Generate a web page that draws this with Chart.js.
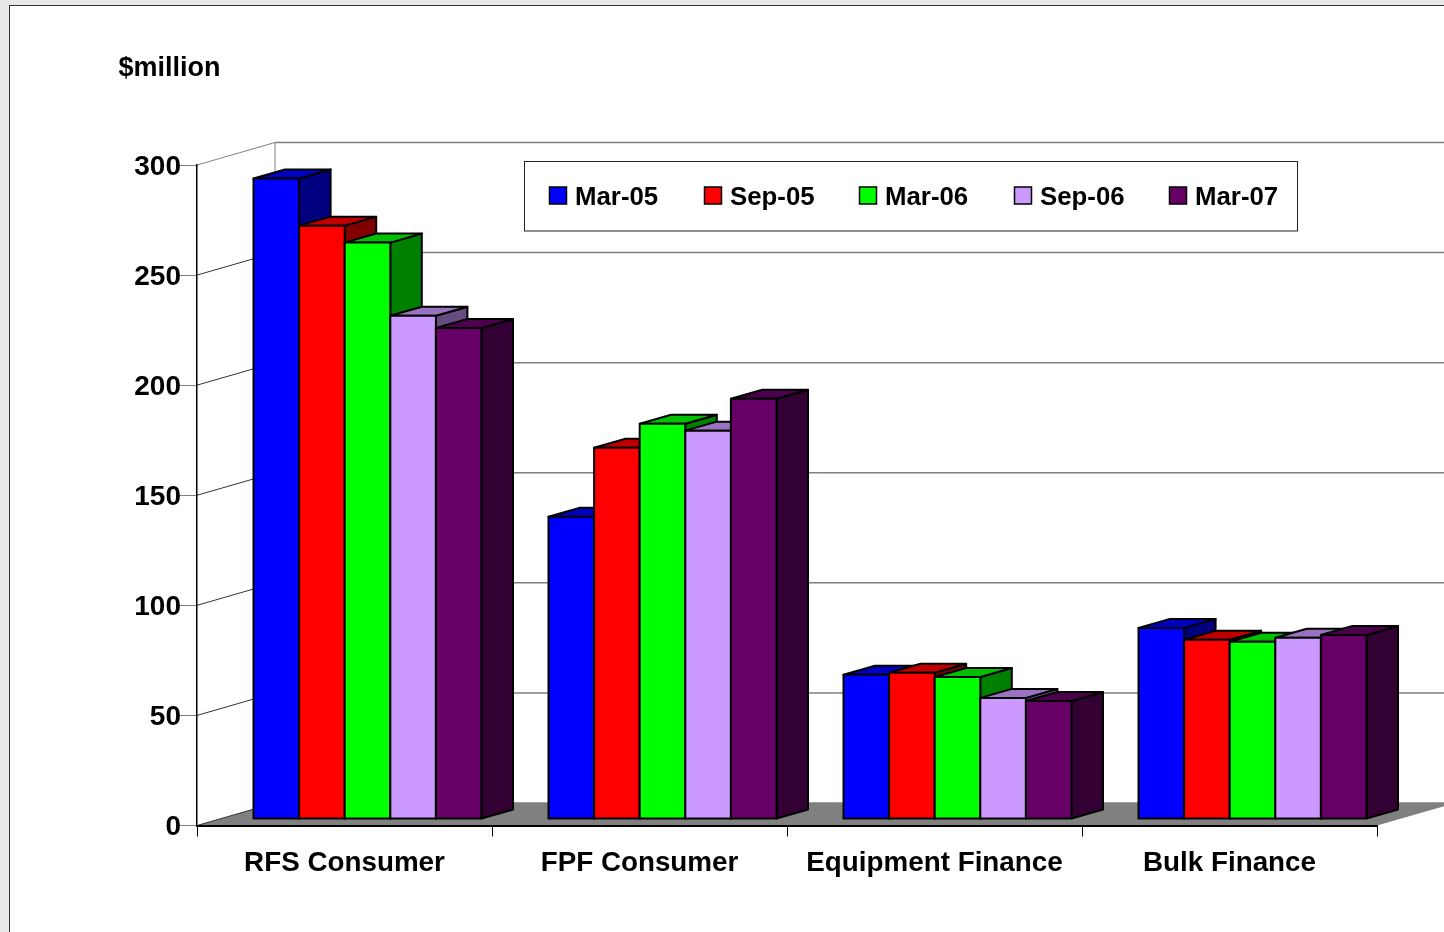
<!DOCTYPE html>
<html><head><meta charset="utf-8">
<style>
html,body{margin:0;padding:0;width:1444px;height:932px;overflow:hidden;background:#e9e9e9}
#frame{position:absolute;left:9px;top:5px;width:1460px;height:960px;background:#fff;border:1.5px solid #333;box-sizing:border-box}
#c{position:absolute;left:0;top:0}
</style>
<script src="https://cdn.jsdelivr.net/npm/chart.js@4/dist/chart.umd.min.js"></script>
</head><body>
<div id="frame"></div>
<canvas id="c" width="1444" height="932"></canvas>
<script>
const categories = ['RFS Consumer','FPF Consumer','Equipment Finance','Bulk Finance'];
const seriesNames = ['Mar-05','Sep-05','Mar-06','Sep-06','Mar-07'];
const mar05 = [290.9,137.3,65.5,86.8];
const sep05 = [269.5,168.6,66.4,81.4];
const mar06 = [261.8,179.5,64.5,80.5];
const sep06 = [228.6,176.4,55.0,82.3];
const mar07 = [223.0,190.9,53.6,83.6];
const seriesValues = [mar05,sep05,mar06,sep06,mar07];
const frontColors = ['#0000ff','#ff0000','#00ff00','#cc99ff','#660066'];
const topColors   = ['#0000c0','#c00000','#00c000','#9973bf','#4d004d'];
const sideColors  = ['#000080','#800000','#008000','#664d80','#330033'];
const FONT = '"Liberation Sans", Arial, sans-serif';

// 3D projection constants
const wall = {dx:78, dy:-22.5};
const shift = {dx:23, dy:-6.5};
const depth = {dx:31.5, dy:-9};

function poly(ctx, pts, fill, stroke, lw){
  ctx.beginPath();
  pts.forEach((p,i)=> i?ctx.lineTo(p[0],p[1]):ctx.moveTo(p[0],p[1]));
  ctx.closePath();
  if(fill){ctx.fillStyle=fill;ctx.fill();}
  if(stroke){ctx.strokeStyle=stroke;ctx.lineWidth=lw;ctx.lineJoin='round';ctx.stroke();}
}

const chart3d = {
  id:'chart3d',
  beforeDraw(chart){
    const {ctx,scales:{x,y}} = chart;
    const L=x.left,R=x.right,y0=y.getPixelForValue(0),yTop=y.getPixelForValue(300);
    ctx.save();
    poly(ctx,[[L,y0],[L+wall.dx,y0+wall.dy],[R+wall.dx,y0+wall.dy],[R,y0]],'#808080');
    y.ticks.forEach(t=>{
      const py=y.getPixelForValue(t.value);
      ctx.strokeStyle='#808080';ctx.lineWidth=1.5;
      ctx.beginPath();ctx.moveTo(L+wall.dx,py+wall.dy);ctx.lineTo(R+wall.dx,py+wall.dy);ctx.stroke();
      ctx.strokeStyle=t.value===300?'#808080':'#333';ctx.lineWidth=1;
      ctx.beginPath();ctx.moveTo(L,py);ctx.lineTo(L+wall.dx,py+wall.dy);ctx.stroke();
    });
    ctx.strokeStyle='#808080';ctx.lineWidth=1;
    ctx.beginPath();ctx.moveTo(L+wall.dx,yTop+wall.dy);ctx.lineTo(L+wall.dx,y0+wall.dy);ctx.stroke();
    ctx.restore();
  },
  // paint the bars series by series, left to right, so each front covers the previous side
  beforeDatasetsDraw(chart){
    const ctx=chart.ctx;
    seriesNames.forEach((_,i)=>{
      const meta=chart.getDatasetMeta(i);
      ctx.save();
      ctx.translate(shift.dx,shift.dy);
      meta.data.forEach(b=>{
        const l=b.x-b.width/2,r=b.x+b.width/2,t=b.y,base=b.base;
        poly(ctx,[[r,base],[r+depth.dx,base+depth.dy],[r+depth.dx,t+depth.dy],[r,t]],sideColors[i],'#000',2);
        poly(ctx,[[l,t],[l+depth.dx,t+depth.dy],[r+depth.dx,t+depth.dy],[r,t]],topColors[i],'#000',2);
      });
      meta.controller.draw();
      meta.data.forEach(b=>{
        const l=b.x-b.width/2,r=b.x+b.width/2;
        poly(ctx,[[l,b.y],[r,b.y],[r,b.base],[l,b.base]],null,'#000',2);
      });
      ctx.restore();
    });
    return false;
  },
  afterDraw(chart){
    const ctx=chart.ctx;
    ctx.save();
    ctx.fillStyle='#000';ctx.textBaseline='middle';ctx.textAlign='left';
    ctx.font='bold 27px '+FONT;
    ctx.fillText('$million',118.5,68.5);
    ctx.fillStyle='#fff';ctx.strokeStyle='#222';ctx.lineWidth=1;
    ctx.fillRect(524,161,774,70);ctx.strokeRect(524.5,161.5,773,69.5);
    ctx.font='bold 25.8px '+FONT;
    seriesNames.forEach((n,i)=>{
      const sx=549.5+155*i;
      ctx.fillStyle=frontColors[i];ctx.fillRect(sx,187,17,17);
      ctx.strokeStyle='#000';ctx.lineWidth=1.5;ctx.strokeRect(sx,187,17,17);
      ctx.fillStyle='#000';ctx.fillText(n,sx+25.5,197.5);
    });
    ctx.restore();
  }
};

new Chart(document.getElementById('c'),{
  type:'bar',
  data:{labels:categories,datasets:seriesNames.map((n,i)=>({
    label:n,data:seriesValues[i],backgroundColor:frontColors[i],borderWidth:0,clip:false
  }))},
  plugins:[chart3d],
  options:{
    responsive:false,animation:false,events:[],
    layout:{padding:{left:0,top:165,right:67,bottom:46.5}},
    datasets:{bar:{categoryPercentage:228/295,barPercentage:1}},
    plugins:{legend:{display:false},title:{display:false},tooltip:{enabled:false}},
    scales:{
      x:{
        offset:true,
        afterFit(s){s.height=60;},
        grid:{drawOnChartArea:false,drawTicks:true,tickLength:11,color:'#000',lineWidth:1},
        border:{display:true,color:'#000',width:2},
        ticks:{color:'#000',padding:10,maxRotation:0,autoSkip:false,font:{family:FONT,size:27.8,weight:'bold'}}
      },
      y:{
        min:0,max:300,
        afterFit(s){s.width=197;},
        grid:{drawOnChartArea:false,drawTicks:true,tickLength:17,color:'#808080',lineWidth:1},
        border:{display:true,color:'#000',width:1.5},
        ticks:{stepSize:50,color:'#000',padding:-1,labelOffset:2,font:{family:FONT,size:28,weight:'bold'}}
      }
    }
  }
});
</script>
</body></html>
